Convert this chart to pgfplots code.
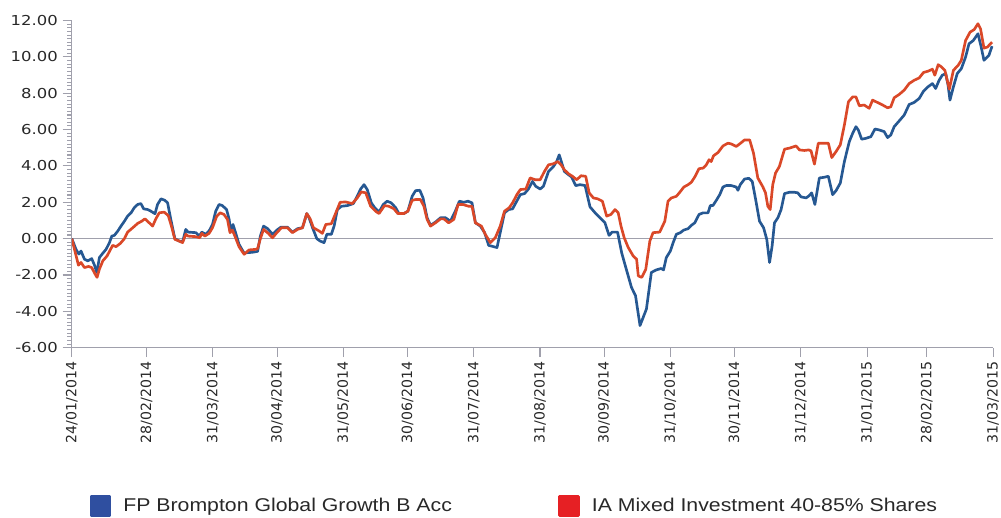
\documentclass[border=0pt]{standalone}
\usepackage{fontspec}
\setmainfont{Liberation Sans}
\newfontfamily\yfont{DejaVu Sans}[FakeStretch=1.2]
\newfontfamily\xfont{DejaVu Sans}
\newfontfamily\legfont{Liberation Sans}[FakeStretch=1.15]
\usepackage{pgfplots}
\pgfplotsset{compat=1.18}
\definecolor{fundblue}{RGB}{38,88,146}
\definecolor{sectorred}{RGB}{218,72,40}
\definecolor{legblue}{RGB}{47,79,160}
\definecolor{legred}{RGB}{230,32,36}
\definecolor{axisgray}{RGB}{160,160,172}
\definecolor{labelgray}{RGB}{40,40,40}
\begin{document}
\begin{tikzpicture}
\begin{axis}[
  at={(0,0)}, anchor=south west,
  scale only axis,
  width=692.6pt, height=246pt,
  xmin=0, xmax=431, ymin=-6, ymax=12,
  axis x line=bottom, axis y line=left,
  axis line style={axisgray, line width=0.9pt, -},
  ytick={-6,-4,...,12},
  yticklabels={-6.00,-4.00,-2.00,0.00,2.00,4.00,6.00,8.00,10.00,12.00},
  minor y tick num=9,
  xtick={0,35,66,96,127,157,188,219,249,280,310,341,372,400,431},
  xticklabels={24/01/2014,28/02/2014,31/03/2014,30/04/2014,31/05/2014,30/06/2014,31/07/2014,31/08/2014,30/09/2014,31/10/2014,30/11/2014,31/12/2014,31/01/2015,28/02/2015,31/03/2015},
  x tick label style={rotate=90, anchor=east, font=\xfont\fontsize{10.6pt}{12pt}\selectfont, text=labelgray},
  y tick label style={font=\yfont\fontsize{10.3pt}{12pt}\selectfont, text=labelgray},
  tick align=outside,
  major tick length=7pt, minor tick length=3.5pt,
  tick style={axisgray, line width=0.8pt},
  extra y ticks={0}, extra y tick labels={},
  extra y tick style={grid=major, major grid style={axisgray, line width=0.8pt}, major tick length=0pt},
  legend columns=2,
  legend style={at={(0.0195,-0.483)}, anchor=west, draw=none, fill=none, inner sep=0pt, outer sep=0pt,
    font=\legfont\fontsize{13.9pt}{16pt}\selectfont, text=labelgray, nodes={inner sep=0pt},
    /tikz/every odd column/.append style={column sep=9pt}},
  line join=round,
]
\addplot[fundblue, line width=2pt, legend image code/.code={\fill[legblue] (0pt,-7.1pt) rectangle (14.25pt,7.1pt);}] coordinates {
(0,0)(2.0,-0.6)(3.3,-0.85)(4.3,-0.68)(5.9,-1.13)(7.5,-1.22)(9.3,-1.1)(10.6,-1.46)(11.7,-1.86)(12.9,-1.04)(14.5,-0.8)(16.0,-0.59)(17.6,-0.22)(18.7,0.14)(19.9,0.18)(21.5,0.42)(23.0,0.69)(24.6,0.96)(26.1,1.24)(27.7,1.42)(29.2,1.7)(30.8,1.88)(32.3,1.93)(33.6,1.64)(35.5,1.6)(37.0,1.51)(38.9,1.37)(40.1,1.88)(41.7,2.19)(43.5,2.11)(44.8,1.97)(46.3,1.06)(48.2,0)(50.2,-0.13)(51.8,-0.18)(53.3,0.51)(54.4,0.36)(58.0,0.33)(59.6,0.14)(60.8,0.36)(62.6,0.24)(64.2,0.42)(65.8,0.78)(67.3,1.51)(68.9,1.88)(70.4,1.82)(72.4,1.6)(73.6,1.06)(74.3,0.42)(75.4,0.78)(76.6,0.33)(78.2,-0.31)(80.6,-0.8)(82.1,-0.77)(84.4,-0.75)(86.9,-0.7)(88.2,0.14)(89.7,0.69)(91.6,0.55)(93.9,0.24)(95.9,0.47)(97.8,0.63)(100.9,0.63)(103.2,0.36)(105.6,0.55)(107.9,0.6)(109.9,1.38)(111.0,1.15)(112.6,0.6)(114.6,0)(116.1,-0.13)(118.0,-0.22)(119.3,0.24)(121.4,0.24)(122.7,0.69)(124.2,1.6)(126.1,1.78)(128.9,1.82)(131.7,1.93)(133.5,2.33)(135.1,2.73)(136.7,2.97)(138.2,2.7)(140.1,1.97)(141.7,1.7)(143.7,1.46)(145.7,1.88)(147.5,2.06)(149.4,1.97)(151.5,1.7)(153.0,1.38)(155.3,1.38)(157.2,1.51)(159.2,2.33)(160.8,2.64)(162.8,2.66)(164.3,2.24)(166.2,1.15)(167.8,0.73)(170.1,0.91)(172.5,1.15)(174.8,1.15)(177.1,0.96)(179.4,1.51)(181.3,2.06)(183.3,2.0)(185.3,2.06)(187.2,1.97)(188.8,0.87)(191.1,0.69)(193.1,0.33)(195.0,-0.37)(197.3,-0.44)(198.9,-0.49)(200.4,0.33)(202.4,1.42)(204.3,1.6)(206.2,1.64)(207.7,1.97)(209.8,2.42)(211.8,2.48)(213.6,2.73)(215.5,3.15)(217.0,2.88)(219.1,2.73)(220.6,2.88)(223.0,3.7)(225.3,3.97)(226.8,4.24)(228.0,4.61)(229.2,4.16)(230.4,3.7)(232.3,3.52)(233.8,3.39)(235.7,2.92)(237.8,2.97)(240.1,2.92)(242.4,1.75)(244.8,1.42)(247.1,1.15)(249.4,0.87)(251.3,0.18)(252.8,0.36)(255.3,0.36)(257.2,-0.77)(258.7,-1.4)(261.8,-2.68)(263.7,-3.14)(265.8,-4.78)(268.8,-3.87)(271.1,-1.86)(273.4,-1.72)(275.7,-1.64)(276.8,-1.72)(278.1,-1.04)(280.0,-0.68)(281.3,-0.22)(282.8,0.24)(284.7,0.33)(286.2,0.47)(288.3,0.55)(289.8,0.73)(291.4,0.87)(293.4,1.33)(295.3,1.42)(297.6,1.42)(298.7,1.82)(299.9,1.82)(301.5,2.11)(303.1,2.42)(304.6,2.84)(306.1,2.92)(308.5,2.92)(310.8,2.84)(311.6,2.66)(312.7,2.97)(314.7,3.28)(316.7,3.32)(318.3,3.15)(319.9,2.15)(321.7,0.96)(323.6,0.6)(325.1,-0.04)(326.4,-1.31)(327.6,-0.4)(328.7,0.87)(330.3,1.15)(331.8,1.6)(333.4,2.48)(335.7,2.55)(338.1,2.55)(339.6,2.52)(341.1,2.3)(343.5,2.24)(345.0,2.37)(346.1,2.52)(347.6,1.88)(349.7,3.34)(351.7,3.37)(353.9,3.43)(355.9,2.42)(357.5,2.64)(359.5,3.06)(361.4,4.24)(363.7,5.34)(365.3,5.8)(366.8,6.16)(367.9,5.98)(369.5,5.47)(371.5,5.52)(373.8,5.61)(375.7,6.03)(377.7,5.98)(380.0,5.89)(381.6,5.56)(383.1,5.7)(384.7,6.16)(387.0,6.47)(389.4,6.8)(391.7,7.38)(394.0,7.49)(396.4,7.71)(398.4,8.11)(400.5,8.35)(402.6,8.53)(404.1,8.26)(405.7,8.71)(407.2,8.99)(408.8,9.08)(409.9,8.44)(410.8,7.62)(412.4,8.35)(414.2,9.08)(416.1,9.35)(418.1,9.99)(419.7,10.72)(421.7,10.9)(423.9,11.27)(425.4,10.54)(426.7,9.81)(429.0,10.08)(430.5,10.59)
};
\addlegendentry{\makebox[327pt][l]{FP Brompton Global Growth B Acc}}
\addplot[sectorred, line width=2pt, legend image code/.code={\fill[legred] (0pt,-7.1pt) rectangle (14.25pt,7.1pt);}] coordinates {
(0,0)(2.0,-0.95)(3.1,-1.46)(4.3,-1.31)(5.9,-1.59)(7.8,-1.53)(9.3,-1.59)(10.9,-1.95)(11.8,-2.13)(12.9,-1.68)(14.5,-1.22)(16.5,-0.95)(18.1,-0.59)(19.1,-0.37)(20.7,-0.44)(22.7,-0.26)(24.6,0)(26.1,0.36)(28.5,0.6)(30.8,0.84)(32.7,0.96)(34.2,1.09)(36.2,0.87)(37.8,0.69)(39.3,1.09)(40.9,1.42)(43.2,1.46)(45.1,1.27)(46.6,0.69)(48.2,-0.04)(50.2,-0.13)(51.8,-0.22)(53.3,0.24)(54.4,0.14)(58.0,0.11)(59.8,0.05)(60.8,0.29)(62.2,0.14)(64.2,0.29)(65.8,0.6)(67.8,1.24)(69.4,1.42)(71.2,1.33)(72.8,1.06)(74.0,0.33)(75.1,0.47)(76.6,0.05)(78.2,-0.44)(80.6,-0.86)(82.9,-0.62)(86.0,-0.59)(86.9,-0.55)(88.2,0)(89.7,0.51)(91.9,0.29)(93.9,0.05)(95.9,0.33)(98.1,0.6)(100.9,0.6)(103.2,0.33)(105.6,0.51)(107.9,0.6)(109.9,1.38)(111.5,1.09)(113.0,0.6)(115.7,0.42)(117.2,0.29)(118.8,0.78)(121.4,0.82)(123.5,1.42)(125.5,2.0)(128.1,2.02)(131.2,1.93)(133.5,2.24)(135.4,2.57)(137.5,2.52)(139.8,1.78)(142.1,1.51)(143.7,1.38)(146.3,1.82)(148.3,1.78)(150.7,1.64)(152.5,1.38)(155.3,1.38)(157.2,1.51)(159.2,2.11)(160.8,2.15)(163.1,2.15)(164.7,1.78)(166.2,1.06)(167.8,0.69)(170.1,0.87)(172.5,1.09)(174.0,1.09)(176.3,0.87)(178.7,1.06)(180.7,1.88)(182.9,1.88)(185.7,1.78)(187.2,1.78)(188.8,0.87)(191.6,0.69)(193.4,0.24)(195.8,-0.22)(198.1,0.05)(200.4,0.69)(202.4,1.51)(204.6,1.7)(206.2,1.97)(208.2,2.42)(209.8,2.7)(212.4,2.73)(214.4,3.34)(216.8,3.24)(219.1,3.24)(221.1,3.7)(223.0,4.06)(225.3,4.12)(227.3,4.24)(228.9,4.06)(230.4,3.79)(232.3,3.57)(234.2,3.43)(236.2,3.24)(238.2,3.46)(240.4,3.43)(242.0,2.52)(244.0,2.24)(246.0,2.19)(248.2,2.06)(250.2,1.24)(252.2,1.33)(254.1,1.6)(255.6,1.42)(256.9,0.69)(258.4,0.05)(260.3,-0.49)(262.6,-0.95)(264.2,-1.13)(265.0,-2.05)(266.6,-2.13)(268.5,-1.68)(270.4,-0.13)(271.9,0.33)(275.0,0.36)(277.4,0.96)(278.9,2.06)(280.5,2.24)(282.8,2.33)(284.4,2.55)(286.3,2.84)(288.3,2.97)(289.8,3.1)(291.4,3.39)(293.4,3.85)(295.3,3.88)(296.8,4.06)(298.1,4.34)(299.1,4.24)(300.2,4.56)(302.3,4.74)(304.6,5.1)(306.9,5.25)(308.5,5.21)(310.8,5.07)(312.4,5.21)(314.7,5.43)(317.1,5.43)(318.9,4.7)(320.9,3.34)(323.3,2.84)(324.5,2.52)(325.6,1.78)(326.7,1.6)(327.9,2.97)(329.2,3.61)(331.0,3.97)(333.4,4.92)(335.7,4.98)(338.8,5.1)(340.4,4.88)(342.7,4.85)(344.7,4.88)(345.8,4.83)(347.4,4.1)(349.2,5.25)(353.9,5.25)(355.5,4.46)(357.5,4.79)(359.5,5.16)(361.4,6.25)(363.3,7.53)(365.3,7.8)(366.8,7.8)(368.4,7.31)(370.7,7.35)(373.0,7.17)(374.6,7.62)(376.9,7.49)(379.3,7.35)(381.6,7.2)(383.1,7.25)(384.7,7.75)(387.0,7.93)(389.4,8.17)(391.7,8.53)(394.0,8.71)(396.4,8.84)(398.4,9.14)(400.5,9.21)(402.6,9.32)(403.7,8.99)(405.3,9.57)(406.9,9.44)(408.4,9.26)(410.5,8.22)(412.4,9.26)(414.6,9.53)(416.1,9.81)(418.1,10.9)(420.2,11.36)(422.1,11.5)(423.9,11.82)(425.1,11.54)(426.7,10.48)(428.3,10.54)(430.5,10.81)
};
\addlegendentry{IA Mixed Investment 40-85\% Shares}
\end{axis}
\pgfresetboundingbox
\useasboundingbox (-54pt,-128pt) rectangle (698.5pt,261.4pt);
\end{tikzpicture}
\end{document}
